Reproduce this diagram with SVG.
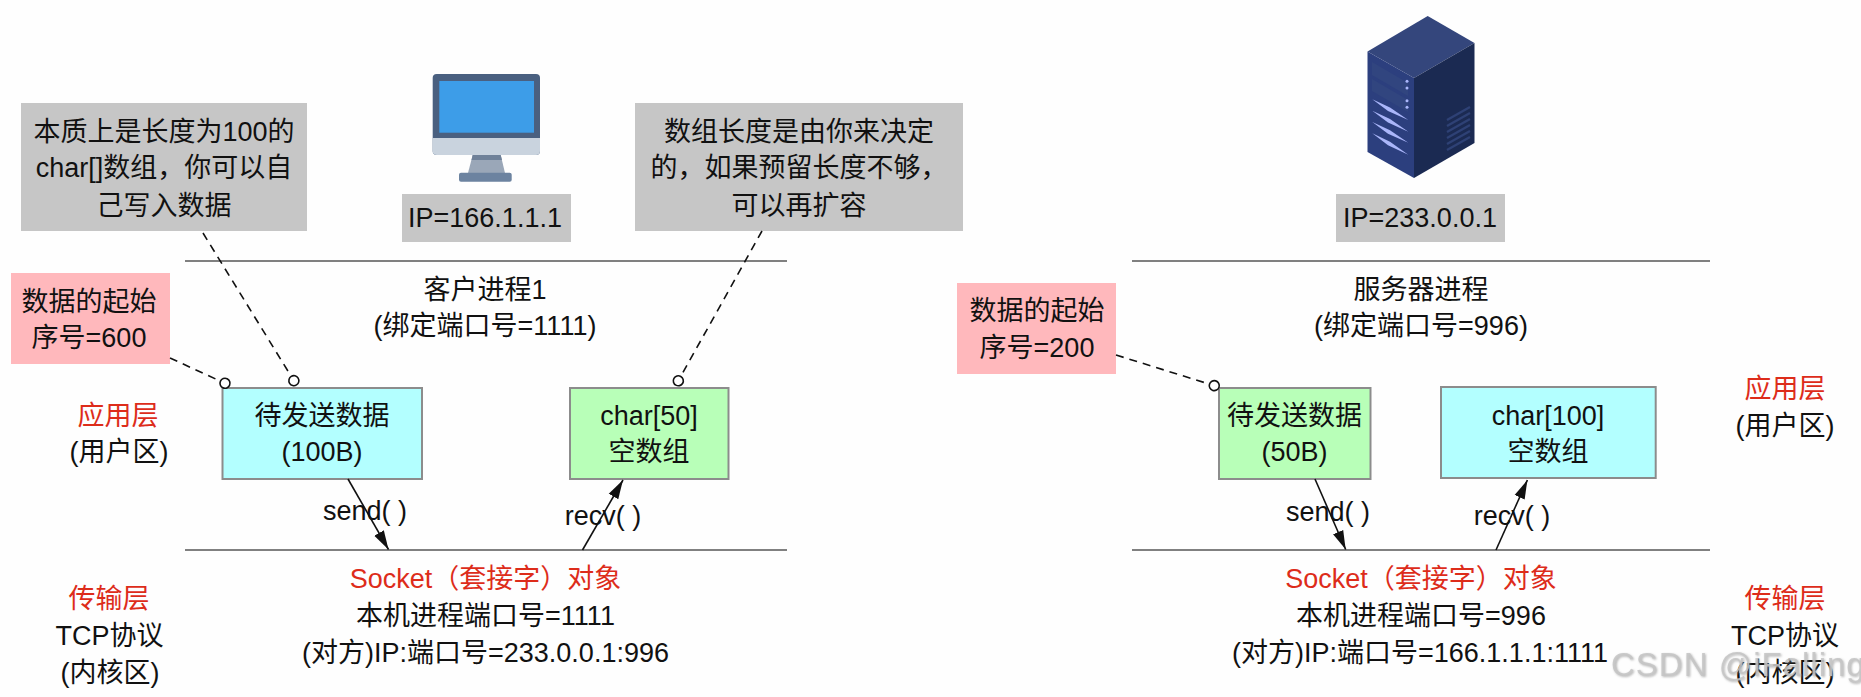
<svg xmlns="http://www.w3.org/2000/svg" width="1861" height="697" viewBox="0 0 1861 697">
<style>
text{font-family:"Liberation Sans","Noto Sans CJK SC",sans-serif;font-size:27px;fill:#111;text-anchor:middle}
.red{fill:#dd2c1a}
.grey{fill:#c6c6c6}
.pink{fill:#ffb8bc}
.cyan{fill:#b3ffff;stroke:#8c8c8c;stroke-width:2}
.green{fill:#b8ffb8;stroke:#8c8c8c;stroke-width:2}
.rule{stroke:#808080;stroke-width:2;fill:none}
.dash{stroke:#111;stroke-width:1.6;stroke-dasharray:8 6;fill:none;marker-end:url(#oval)}
.arrow{stroke:#111;stroke-width:1.6;fill:none;marker-end:url(#head)}
.blade{fill:#aab6fa}
.vent{stroke:#2e4175;stroke-width:2.4;fill:none}
.wm{font-size:33px;letter-spacing:1px;fill:#c4c4c4;fill-opacity:.85;text-anchor:start;filter:url(#sh)}
</style>
<defs>
<marker id="head" markerUnits="userSpaceOnUse" markerWidth="20" markerHeight="14" refX="19" refY="7" orient="auto"><path d="M0 1.500L19 7L0 12.500Z" fill="#111"/></marker>
<marker id="oval" markerUnits="userSpaceOnUse" markerWidth="13" markerHeight="13" refX="1" refY="6.500" orient="auto"><circle cx="6.500" cy="6.500" r="5" fill="#fff" stroke="#111" stroke-width="1.600"/></marker>
<filter id="sh" x="-5%" y="-20%" width="110%" height="140%"><feDropShadow dx="1" dy="1" stdDeviation="1" flood-color="#888" flood-opacity=".7"/></filter>
</defs>
<rect width="1861" height="697" fill="#fefefe"/>

<g id="rules">
<line class="rule" x1="185" y1="261" x2="787" y2="261"/>
<line class="rule" x1="185" y1="550" x2="787" y2="550"/>
<line class="rule" x1="1132" y1="261" x2="1710" y2="261"/>
<line class="rule" x1="1132" y1="550" x2="1710" y2="550"/>
</g>

<g id="client-monitor">
<rect x="432.700" y="74" width="107.300" height="81" rx="4" fill="#4a6080"/>
<path d="M432.700 138H540V151a4 4 0 0 1-4 4H436.700a4 4 0 0 1-4-4Z" fill="#c9d3de"/>
<rect x="439.300" y="81" width="94.700" height="51.700" fill="#3d9de8"/>
<path d="M472.700 155H500.700L505 173H468Z" fill="#9aa7b8"/>
<path d="M472.700 155H500.700L502 160H471.500Z" fill="#6f8199"/>
<rect x="459" y="172.700" width="52.700" height="9" rx="2" fill="#6c83a0"/>
</g>

<g id="server-icon">
<path d="M1427.700 16L1474.500 43L1414 78L1367.500 51.500Z" fill="#34467c"/>
<path d="M1367.500 51.500L1414 78V178L1367.500 152Z" fill="#2c3f7e"/>
<path d="M1474.500 43V143L1414 178V78Z" fill="#1b2a52"/>
<path d="M1372 62L1408 83V96L1372 75ZM1372 79L1408 100V112L1372 91Z" fill="#31457f"/>
<path class="blade" d="M1372.300 99.300L1390 107.500L1408.300 120L1388 111ZM1372.300 110.700L1390 119L1408.300 131.700L1388 122.500ZM1372.300 122L1390 130.300L1408.300 142.700L1388 133.800ZM1372.300 133.300L1390 141.700L1408.300 154.700L1388 145.300Z"/>
<circle class="blade" cx="1407" cy="81.300" r="1.500"/><circle class="blade" cx="1407" cy="88" r="1.500"/><circle class="blade" cx="1407" cy="100.700" r="1.500"/><circle class="blade" cx="1407" cy="107.300" r="1.500"/>
<path class="vent" d="M1447 120L1470 107M1447 126L1470 113M1447 132L1470 119M1447 138L1470 125M1447 144L1470 131M1447 150L1470 137"/>
</g>

<g id="note-char100"><rect class="grey" x="21" y="103" width="286" height="128"/>
<text x="164" y="140.500">本质上是长度为100的</text><text x="164" y="177">char[]数组，你可以自</text><text x="164" y="214.500">己写入数据</text></g>
<g id="ip-client"><rect class="grey" x="402" y="194" width="169" height="48"/><text x="485" y="227">IP=166.1.1.1</text></g>
<g id="note-expand"><rect class="grey" x="635" y="103" width="328" height="128"/>
<text x="799" y="140.500">数组长度是由你来决定</text><text x="799" y="177">的，如果预留长度不够，</text><text x="799" y="214.500">可以再扩容</text></g>
<g id="seq-client"><rect class="pink" x="11" y="273" width="159" height="91"/><text x="89" y="310.500">数据的起始</text><text x="89" y="347">序号=600</text></g>
<g id="client-process"><text x="485" y="298.500">客户进程1</text><text x="485" y="335">(绑定端口号=1111)</text></g>
<g id="client-app-layer"><text class="red" x="118" y="425">应用层</text><text x="119" y="461">(用户区)</text></g>
<g id="client-send-buf"><rect class="cyan" x="222.500" y="388" width="199.500" height="91"/><text x="322" y="425">待发送数据</text><text x="322" y="461">(100B)</text></g>
<g id="client-recv-buf"><rect class="green" x="570" y="388" width="158.500" height="91"/><text x="649" y="425">char[50]</text><text x="649" y="461">空数组</text></g>
<g id="client-socket"><text class="red" x="485.500" y="587.500">Socket（套接字）对象</text><text x="485.500" y="624.500">本机进程端口号=1111</text><text x="485.500" y="661.500">(对方)IP:端口号=233.0.0.1:996</text></g>
<g id="client-tcp-layer"><text class="red" x="109" y="607.500">传输层</text><text x="109.500" y="644.500">TCP协议</text><text x="110" y="681.500">(内核区)</text></g>

<g id="ip-server"><rect class="grey" x="1336" y="194" width="169" height="48"/><text x="1420" y="227">IP=233.0.0.1</text></g>
<g id="seq-server"><rect class="pink" x="957" y="283" width="159" height="91"/><text x="1037" y="320">数据的起始</text><text x="1037" y="357">序号=200</text></g>
<g id="server-process"><text x="1421" y="298.500">服务器进程</text><text x="1421" y="335">(绑定端口号=996)</text></g>
<g id="server-send-buf"><rect class="green" x="1219" y="388" width="151.500" height="91"/><text x="1294.500" y="425">待发送数据</text><text x="1294.500" y="461">(50B)</text></g>
<g id="server-recv-buf"><rect class="cyan" x="1441" y="387" width="214.700" height="91"/><text x="1548" y="425">char[100]</text><text x="1548" y="461">空数组</text></g>
<g id="server-app-layer"><text class="red" x="1785" y="397.500">应用层</text><text x="1785" y="434.500">(用户区)</text></g>
<g id="server-socket"><text class="red" x="1421" y="587.500">Socket（套接字）对象</text><text x="1421" y="624.500">本机进程端口号=996</text><text x="1420" y="661.500">(对方)IP:端口号=166.1.1.1:1111</text></g>
<g id="server-tcp-layer"><text class="red" x="1785" y="607.500">传输层</text><text x="1785" y="644.500">TCP协议</text><text x="1785" y="681.500">(内核区)</text></g>

<g id="connectors">
<path class="dash" d="M203 233L291 376"/>
<path class="dash" d="M762 231L681 376"/>
<path class="dash" d="M170 358L220 381"/>
<path class="dash" d="M1116 355L1209 384"/>
<path class="arrow" d="M348 479L388.500 549.500"/>
<path class="arrow" d="M582.500 550L623 480"/>
<path class="arrow" d="M1315 479L1345.700 549.500"/>
<path class="arrow" d="M1496 550L1527.400 480"/>
</g>
<g id="connector-labels">
<text x="365" y="520">send( )</text><text x="603" y="525">recv( )</text>
<text x="1328" y="521">send( )</text><text x="1512" y="525">recv( )</text>
</g>
<text class="wm" x="1611" y="676">CSDN @iFalling</text>
</svg>
